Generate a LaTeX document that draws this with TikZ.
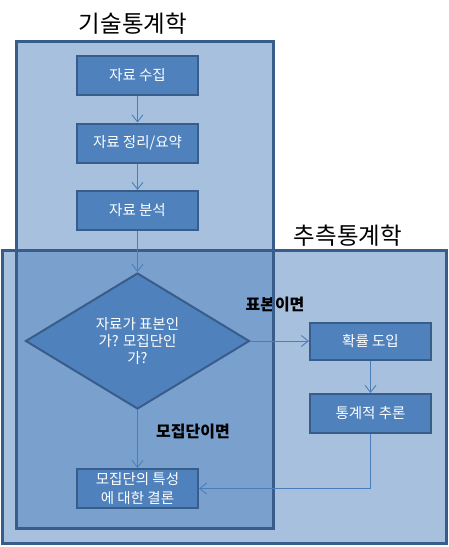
\documentclass[tikz,border=0pt]{standalone}
\usepackage{fontspec}
\setmainfont{Noto Sans CJK KR}
\definecolor{MainBlue}{RGB}{79, 129, 189}
\definecolor{EdgeBlue}{RGB}{56, 93, 138}
\definecolor{LineBlue}{RGB}{74, 126, 187}
\usetikzlibrary{arrows.meta, positioning, shapes, calc}

\begin{document}
\begin{tikzpicture}[x=1pt, y=1pt, node distance=67.5pt]
        \tikzstyle{region} = [rectangle, fill=MainBlue, fill opacity=0.5, inner sep=0pt]
        \tikzstyle{regionline} = [draw=EdgeBlue, line width=3pt]
        \tikzstyle{process} = [rectangle, minimum width=121pt, minimum height=39pt, text centered, align=center, draw=EdgeBlue, line width=2pt, fill=MainBlue, text=white, font=\fontsize{14.5}{19}\selectfont]
        \tikzstyle{decision} = [diamond, minimum width=224pt, minimum height=136pt, inner sep=0pt, align=center, draw=EdgeBlue, line width=2pt, fill=MainBlue, text=white, font=\fontsize{14.5}{17}\selectfont]
        \tikzstyle{arrow} = [-{Straight Barb[length=7pt, width=11pt]}, LineBlue, line width=0.9pt]
        \tikzstyle{heading} = [font=\fontsize{23.5}{26}\selectfont]
        \tikzstyle{branch} = [font=\fontsize{16}{18}\selectfont\bfseries]

        \useasboundingbox (0,0) rectangle (448,-547);

        % Regions
        \node (inferregion) [region, minimum width=443pt, minimum height=292pt] at (224.5,-397) {};
        \node (descregion) [region, minimum width=256pt, minimum height=486pt] at (145,-285) {};
        \node (desctitle) [heading] at (133,-24) {기술통계학};
        \node (infertitle) [heading] at (348,-236) {추측통계학};

        % Branch labels
        \node (samplelabel) [branch] at (275,-305) {표본이면};
        \node (poplabel) [branch] at (193,-432) {모집단이면};

        \draw [regionline] (inferregion.north west) rectangle (inferregion.south east);
        \draw [regionline] (descregion.north west) rectangle (descregion.south east);

        % Steps
        \node (collect) [process] at (137.5,-75.5) {자료 수집};
        \node (organize) [process, below of=collect] {자료 정리/요약};
        \node (analyze) [process, below of=organize] {자료 분석};
        \node (decide) [decision, below of=analyze, yshift=-63pt] {자료가 표본인\\가? 모집단인\\가?};
        \node (conclude) [process, below of=decide, yshift=-80pt] {모집단의 특성\\에 대한 결론};
        \node (probability) [process, right of=decide, xshift=165.5pt, minimum height=37pt] {확률 도입};
        \node (inference) [process, below of=probability, yshift=-5pt] {통계적 추론};

        % Arrows
        \draw [arrow] (collect) -- (organize);
        \draw [arrow] (organize) -- (analyze);
        \draw [arrow] (analyze) -- (decide);
        \draw [arrow] (decide) -- (conclude);
        \draw [arrow] (decide) -- (probability);
        \draw [arrow] (probability) -- (inference);
        \draw [arrow] (inference) |- (conclude);
\end{tikzpicture}
\end{document}
